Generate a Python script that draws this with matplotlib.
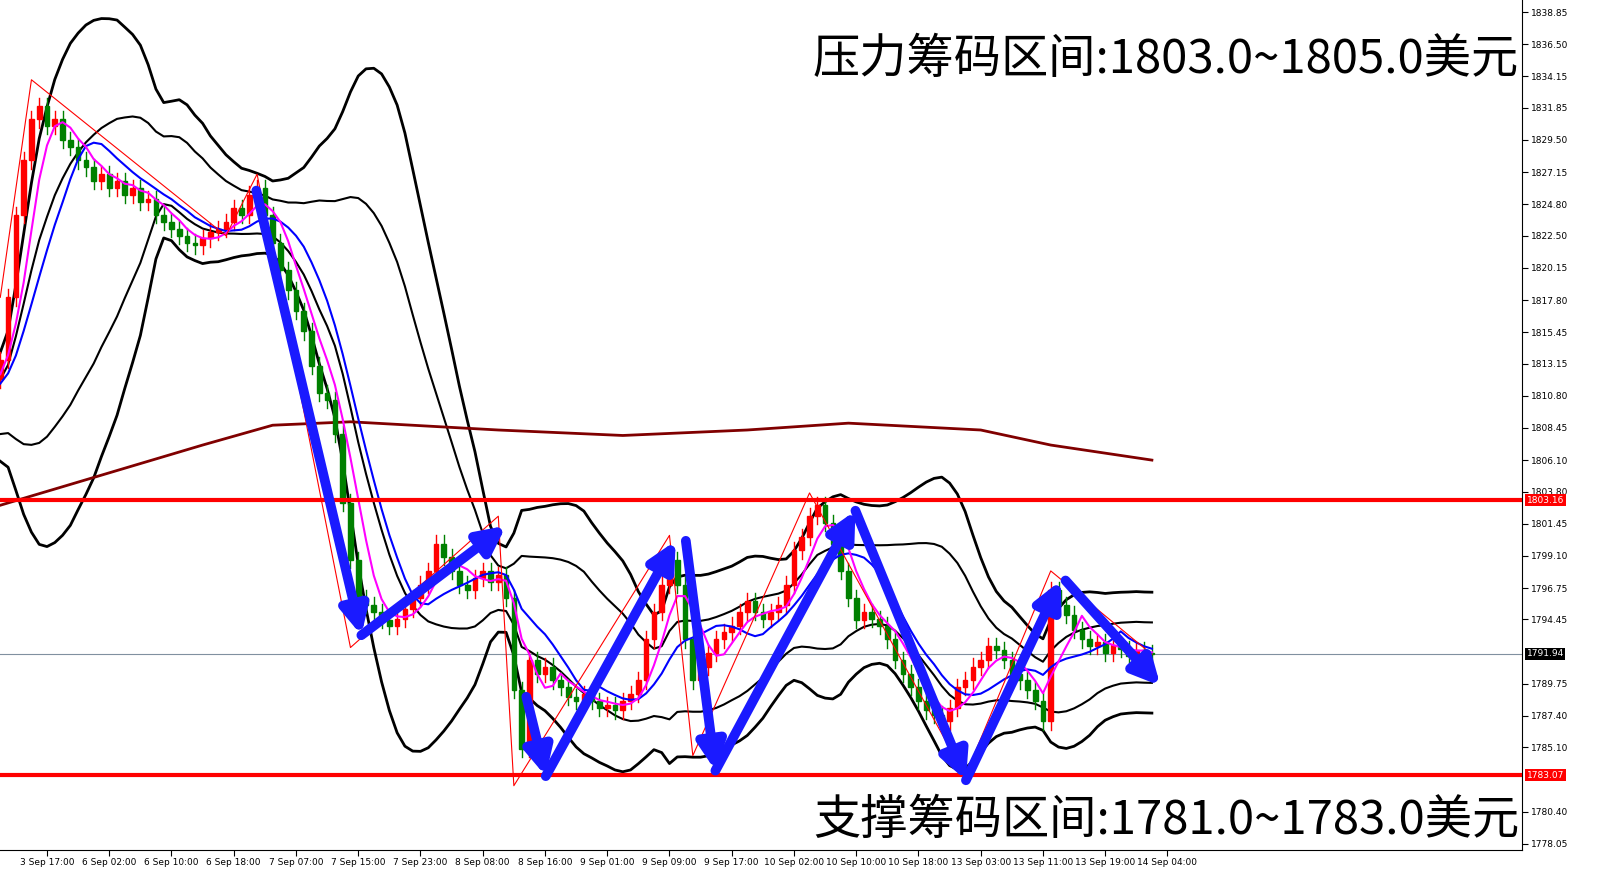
import numpy as np
import matplotlib.pyplot as plt
from matplotlib.patches import Rectangle

plt.rcParams['font.family'] = ['Noto Sans CJK SC', 'DejaVu Sans']

# hourly closes, oldest first
pre_closes = [1807, 1806.5, 1807.5, 1808, 1807, 1808.5, 1809, 1808, 1809.5, 1810,
              1809, 1810.5, 1811, 1810, 1811.5, 1812, 1811, 1812.5, 1813, 1812]
closes = [1813.4, 1818, 1824, 1828, 1831, 1832, 1830.5, 1831, 1829.5, 1829,
          1828, 1827.5, 1826.5, 1827, 1826, 1826.5, 1825.5, 1826, 1825, 1825.2,
          1824, 1823.5, 1823, 1822.5, 1822, 1821.8, 1822.3, 1822.8, 1823, 1823.5,
          1824.5, 1824, 1825.5, 1826, 1824, 1822, 1820, 1818.5, 1817, 1815.5,
          1813, 1811, 1810.5, 1808, 1803, 1798.8, 1796, 1795.5, 1795, 1794.4,
          1794, 1794.5, 1795.2, 1796, 1797, 1798, 1800, 1799, 1798, 1797,
          1796.6, 1797.5, 1798, 1797.2, 1797.7, 1796, 1789.3, 1785, 1791.5, 1790.5,
          1791, 1790, 1789.5, 1788.8, 1788.5, 1789, 1788.5, 1788, 1788.2, 1787.8,
          1788.5, 1789, 1790, 1793, 1795, 1797, 1798.8, 1797, 1793, 1790,
          1791, 1792, 1793, 1793.5, 1794, 1795, 1795.8, 1795, 1794.5, 1795,
          1795.5, 1797, 1799.5, 1800.5, 1802, 1802.8, 1801.5, 1800, 1798, 1796,
          1794.4, 1795, 1794.5, 1794, 1793, 1791.5, 1790.5, 1789.5, 1788.5, 1787.8,
          1787.5, 1787, 1788, 1789.5, 1790, 1791, 1791.5, 1792.5, 1792.2, 1791.5,
          1790.5, 1790, 1789.3, 1788.5, 1787, 1796.6, 1795.5, 1794.8, 1793.7, 1793,
          1792.5, 1792.8, 1792, 1792.6, 1792.3, 1791.8, 1792.2, 1792, 1791.94]

# slow (brown) average, read at a few bars
slow_bars = [0, 13, 26, 35, 45, 64, 80, 96, 109, 126, 135, 148]
slow_vals = [1802.8, 1805, 1807.2, 1808.65, 1808.9, 1808.3, 1807.9, 1808.3, 1808.8, 1808.3, 1807.2, 1806.1]

# zigzag pivots (bar, price)
zz_bars = [0, 4, 29, 33, 45, 64, 66, 86, 89, 104, 124, 135, 148]
zz_vals = [1818, 1833.9, 1822.5, 1827, 1792.4, 1802, 1782.3, 1800.6, 1784.5, 1803.7, 1783, 1798, 1791.9]

# hand-drawn blue arrows (bar, price) start -> end
arrows = [((32.9, 1825.8), (46.4, 1793.3)), ((46.4, 1793.3), (65.0, 1801.3)),
          ((67.6, 1788.8), (70.1, 1783.0)), ((70.1, 1783.0), (86.8, 1800.2)),
          ((88.1, 1800.2), (91.9, 1783.4)), ((91.9, 1783.4), (109.9, 1802.4)),
          ((109.9, 1802.4), (124.1, 1782.7)), ((124.1, 1782.7), (136.3, 1797.3)),
          ((136.9, 1797.3), (149.1, 1789.6))]

x_labels = ["3 Sep 17:00", "6 Sep 02:00", "6 Sep 10:00", "6 Sep 18:00", "7 Sep 07:00",
            "7 Sep 15:00", "7 Sep 23:00", "8 Sep 08:00", "8 Sep 16:00", "9 Sep 01:00",
            "9 Sep 09:00", "9 Sep 17:00", "10 Sep 02:00", "10 Sep 10:00", "10 Sep 18:00",
            "13 Sep 03:00", "13 Sep 11:00", "13 Sep 19:00", "14 Sep 04:00"]
y_ticks = [1838.85, 1836.50, 1834.15, 1831.85, 1829.50, 1827.15, 1824.80, 1822.50,
           1820.15, 1817.80, 1815.45, 1813.15, 1810.80, 1808.45, 1806.10, 1803.80,
           1801.45, 1799.10, 1796.75, 1794.45, 1789.75, 1787.40, 1785.10, 1780.40, 1778.05]

allc = np.array(pre_closes + closes)
n0 = len(pre_closes)

def sma(a, p):
    out = np.full(len(a), np.nan)
    for i in range(p - 1, len(a)):
        out[i] = a[i - p + 1:i + 1].mean()
    return out

def sstd(a, p):
    out = np.full(len(a), np.nan)
    for i in range(p - 1, len(a)):
        out[i] = a[i - p + 1:i + 1].std()
    return out

ma5 = sma(allc, 5)[n0:]
ma10 = sma(allc, 10)[n0:]
mid = sma(allc, 20)[n0:]
sd = sstd(allc, 20)[n0:]
x = np.arange(len(closes))

fig = plt.figure(figsize=(16.16, 8.91), dpi=100)
ax = fig.add_axes([0, 0.046, 0.942, 0.954])

opens = [pre_closes[-1]] + closes[:-1]
for i, (o, c) in enumerate(zip(opens, closes)):
    col = '#ff0000' if c >= o else '#008000'
    hi, lo = max(o, c) + 0.6, min(o, c) - 0.6
    ax.plot([i, i], [lo, hi], color=col, lw=1, zorder=3)
    ax.add_patch(Rectangle((i - 0.3, min(o, c)), 0.6, max(abs(c - o), 0.08),
                           color=col, zorder=3))

ax.plot(x, mid + 2 * sd, color='black', lw=2, zorder=2)
ax.plot(x, mid - 2 * sd, color='black', lw=2, zorder=2)
ax.plot(x, mid + 1 * sd, color='black', lw=1.5, zorder=2)
ax.plot(x, mid - 1 * sd, color='black', lw=1.5, zorder=2)
ax.plot(x, ma10, color='#0000ff', lw=1.5, zorder=4)
ax.plot(x, ma5, color='#ff00ff', lw=1.5, zorder=4)
ax.plot(slow_bars, slow_vals, color='#800000', lw=2, zorder=2)
ax.plot(zz_bars, zz_vals, color='#ff0000', lw=0.8, zorder=4)

for (a, b) in arrows:
    ax.annotate('', xy=b, xytext=a, zorder=6,
                arrowprops=dict(arrowstyle='-|>,head_length=1.6,head_width=0.8',
                                color='#1a1aff', lw=7, shrinkA=0, shrinkB=0))

ax.axhline(1803.16, color='#ff0000', lw=3, zorder=5)
ax.axhline(1783.07, color='#ff0000', lw=3, zorder=5)
ax.axhline(1791.94, color='#8090a0', lw=0.8, zorder=1)

ax.set_xlim(-0.04, 195.6)
ax.set_ylim(1777.6, 1839.73)
ax.yaxis.tick_right()
ax.set_yticks(y_ticks)
ax.set_yticklabels([f"{v:.2f}" for v in y_ticks], fontsize=6.5, family='DejaVu Sans')
ax.set_xticks([6 + 8 * i for i in range(len(x_labels))])
ax.set_xticklabels(x_labels, fontsize=6.5, family='DejaVu Sans')
ax.tick_params(length=4, pad=2)
for sp in ('top', 'left'):
    ax.spines[sp].set_visible(False)

for val, bg in [(1803.16, '#ff0000'), (1791.94, 'black'), (1783.07, '#ff0000')]:
    ax.text(1.003, val, f"{val:.2f}", transform=ax.get_yaxis_transform(), fontsize=6.5,
            color='white', va='center', ha='left', family='DejaVu Sans',
            bbox=dict(boxstyle='square,pad=0.15', fc=bg, ec='none'), clip_on=False)

ax.text(0.998, 0.930, "压力筹码区间:1803.0~1805.0美元", transform=ax.transAxes,
        ha='right', va='center', fontsize=34, zorder=7)
ax.text(0.998, 0.034, "支撑筹码区间:1781.0~1783.0美元", transform=ax.transAxes,
        ha='right', va='center', fontsize=34, zorder=7)

fig.savefig('out.png', dpi=100)
